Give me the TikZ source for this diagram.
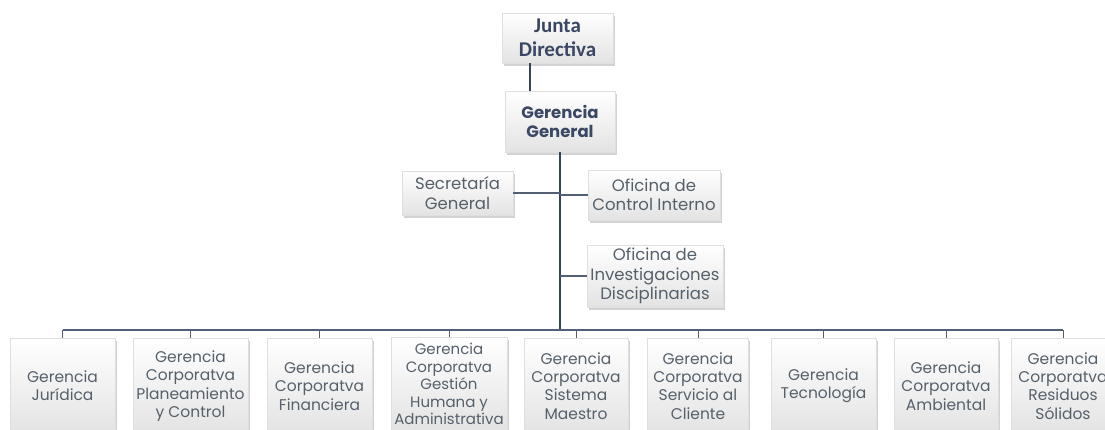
\documentclass[tikz,border=0pt]{standalone}
\usepackage{fontspec}
\setmainfont{Poppins}
\newfontfamily\carl{Carlito}
\usetikzlibrary{shadows}
\definecolor{txt}{HTML}{55606B}
\definecolor{dark}{HTML}{3B4863}
\definecolor{lnk}{HTML}{34445E}
\tikzset{
  box/.style={rectangle, draw=gray!25, line width=0.4pt, top color=white, bottom color=gray!22,
    drop shadow={opacity=0.35, shadow xshift=1.5pt, shadow yshift=-2.5pt},
    align=center, text=txt, inner sep=1pt, font=\fontsize{15.5}{18.3}\selectfont},
  staffbox/.style={box, font=\fontsize{16.5}{19.5}\selectfont},
  topbox/.style={box, text=dark, font=\fontsize{16.5}{19.5}\selectfont\bfseries},
  link/.style={draw=lnk, line width=1.6pt},
  sublink/.style={draw=lnk!85, line width=1.3pt}
}
\begin{document}
\begin{tikzpicture}[x=1pt,y=-1pt]
\useasboundingbox (0,0) rectangle (1105,429);
\fill[white] (0,0) rectangle (1105,429);
% top
\node[topbox, minimum width=111, minimum height=50, font=\carl\fontsize{21}{24.5}\selectfont\bfseries] (junta) at (557.5,38) {Junta\\Directiva};
\node[topbox, minimum width=110, minimum height=61] (gg) at (560,121.5) {Gerencia\\General};
% staff
\node[staffbox, minimum width=111, minimum height=44] (sec) at (457.5,193) {Secretaría\\General};
\node[staffbox, minimum width=132, minimum height=50] (oci) at (654,195) {Oficina de\\Control Interno};
\node[staffbox, minimum width=136, minimum height=62] (oid) at (655,276) {Oficina de\\Investigaciones\\Disciplinarias};
% bottom row
\node[box, minimum width=105, minimum height=96] (b1) at (62.5,386) {Gerencia\\Jurídica};
\node[box, minimum width=115, minimum height=96] (b2) at (190.5,386) {Gerencia\\Corporatva\\Planeamiento\\y Control};
\node[box, minimum width=105, minimum height=96] (b3) at (319.5,386) {Gerencia\\Corporatva\\Financiera};
\node[box, minimum width=116, minimum height=94, font=\fontsize{15}{17.4}\selectfont] (b4) at (449,384) {Gerencia\\Corporatva\\Gestión\\Humana y\\Administrativa};
\node[box, minimum width=104, minimum height=96] (b5) at (576,386) {Gerencia\\Corporatva\\Sistema\\Maestro};
\node[box, minimum width=101, minimum height=96] (b6) at (698,386) {Gerencia\\Corporatva\\Servicio al\\Cliente};
\node[box, minimum width=105, minimum height=96] (b7) at (823.5,386) {Gerencia\\Tecnología};
\node[box, minimum width=104, minimum height=96] (b8) at (946,386) {Gerencia\\Corporatva\\Ambiental};
\node[box, minimum width=103, minimum height=96] (b9) at (1063,386) {Gerencia\\Corporatva\\Residuos\\Sólidos};
% connectors
\coordinate (jx) at (530,0);
\coordinate (bus) at (560,330);
\draw[link] (junta.south -| jx) -- (gg.north -| jx);
\draw[link] (gg.south) -- (bus);
\draw[sublink] (sec.east) -- (sec.east -| gg.south);
\draw[sublink] (oci.west) -- (oci.west -| gg.south);
\draw[sublink] (oid.west) -- (oid.west -| gg.south);
\draw[sublink] (b1.north |- bus) -- (b9.north |- bus);
\foreach \b in {b1,b2,b3,b4,b5,b6,b7,b8,b9}{
  \draw[sublink, line width=1pt] (\b.north) -- (\b.north |- bus);
}
\end{tikzpicture}
\end{document}
